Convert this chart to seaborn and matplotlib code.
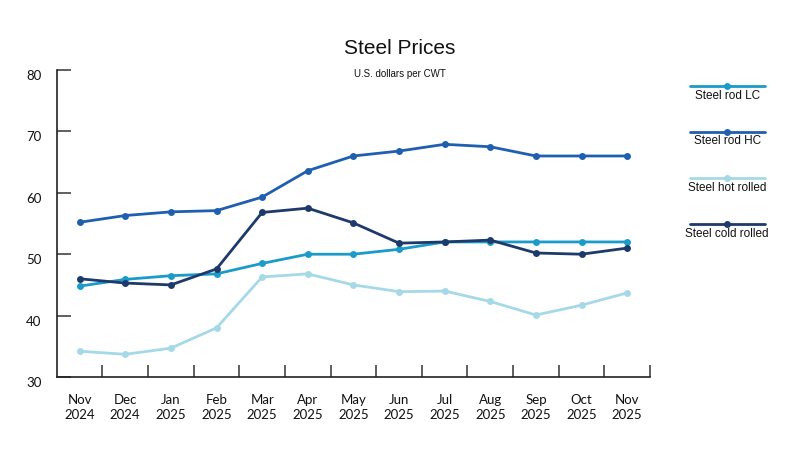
# Steel prices - line chart
import pandas as pd
import matplotlib.pyplot as plt
import matplotlib.transforms as mtransforms
from matplotlib.lines import Line2D
import seaborn as sns

# Data.
months = ["Nov\n2024", "Dec\n2024", "Jan\n2025", "Feb\n2025", "Mar\n2025",
          "Apr\n2025", "May\n2025", "Jun\n2025", "Jul\n2025", "Aug\n2025",
          "Sep\n2025", "Oct\n2025", "Nov\n2025"]
rodLC = [44.8, 45.9, 46.5, 46.8, 48.5, 50.0, 50.0, 50.8, 52.0, 52.0, 52.0, 52.0, 52.0]
rodHC = [55.2, 56.3, 56.9, 57.1, 59.3, 63.6, 66.0, 66.8, 67.9, 67.5, 66.0, 66.0, 66.0]
hotRolled = [34.2, 33.7, 34.7, 38.0, 46.3, 46.8, 45.0, 43.9, 44.0, 42.3, 40.1, 41.7, 43.7]
coldRolled = [46.0, 45.3, 45.0, 47.6, 56.8, 57.5, 55.1, 51.8, 52.0, 52.3, 50.2, 50.0, 51.0]

seriesNames = ["Steel rod LC", "Steel rod HC", "Steel hot rolled", "Steel cold rolled"]
colors = ["#1a9bc9", "#1f5fb0", "#a6d9e8", "#1e3a6a"]

df = pd.DataFrame({"Month": months, seriesNames[0]: rodLC, seriesNames[1]: rodHC,
                   seriesNames[2]: hotRolled, seriesNames[3]: coldRolled})
longDf = df.melt(id_vars="Month", var_name="Series", value_name="Price")
longDf["x"] = longDf["Month"].map({m: i for i, m in enumerate(months)})

sns.set_theme(style="white")
plt.rcParams["font.family"] = ["Liberation Sans", "DejaVu Sans"]

fig = plt.figure(figsize=(8, 4.5), dpi=100)
ax = fig.add_axes([0.071, 0.1622, 0.7415, 0.6822])

sns.lineplot(data=longDf, x="x", y="Price", hue="Series", hue_order=seriesNames,
             palette=colors, marker="o", markersize=5, markeredgewidth=0,
             linewidth=2, legend=False, ax=ax)

ax.set_xlim(-0.5, len(months) - 0.5)
ax.set_ylim(30, 80)
ax.set_xlabel("")
ax.set_ylabel("")

# Spines
for side in ["top", "right"]:
    ax.spines[side].set_visible(False)
for side in ["left", "bottom"]:
    ax.spines[side].set_color("#222222")
    ax.spines[side].set_linewidth(1.2)

# Y ticks point inward, labels slightly below the tick
ax.set_yticks(range(30, 81, 10))
ax.tick_params(axis="y", left=True, direction="in", length=10, width=1.2,
               color="#444444", pad=11, labelsize=9.5, labelcolor="#111111")
offset = mtransforms.ScaledTranslation(0, -5 / 100, fig.dpi_scale_trans)
for lab in ax.get_yticklabels():
    lab.set_transform(lab.get_transform() + offset)
    lab.set_fontfamily(["Lato", "DejaVu Sans"])

# X: labels at centres, tick marks at slot boundaries
ax.set_xticks(range(len(months)))
ax.set_xticklabels(months, fontfamily=["Lato", "DejaVu Sans"])
ax.set_xticks([i + 0.5 for i in range(len(months))], minor=True)
ax.tick_params(axis="x", which="major", bottom=False, length=0, pad=12,
               labelsize=9.5, labelcolor="#111111")
ax.tick_params(axis="x", which="minor", bottom=True, direction="in", length=9,
               width=1.2, color="#444444")
for lab in ax.get_xticklabels():
    lab.set_linespacing(1.3)

# Titles
fig.text(0.5, 0.893, "Steel Prices", ha="center", va="center", fontsize=15,
         color="#111111")
fig.text(0.5, 0.836, "U.S. dollars per CWT", ha="center", va="center",
         fontsize=7, color="#111111")

# Custom legend on the right
legendY = [0.809, 0.707, 0.604, 0.502]
for name, col, ly in zip(seriesNames, colors, legendY):
    fig.add_artist(Line2D([0.862, 0.956], [ly, ly], transform=fig.transFigure,
                          color=col, linewidth=2))
    fig.add_artist(Line2D([0.909], [ly], transform=fig.transFigure, color=col,
                          marker="o", markersize=5, markeredgewidth=0))
    fig.text(0.909, ly - 0.008, name, ha="center", va="top", fontsize=8.5,
             color="#111111")

fig.savefig("out.png", dpi=100)
